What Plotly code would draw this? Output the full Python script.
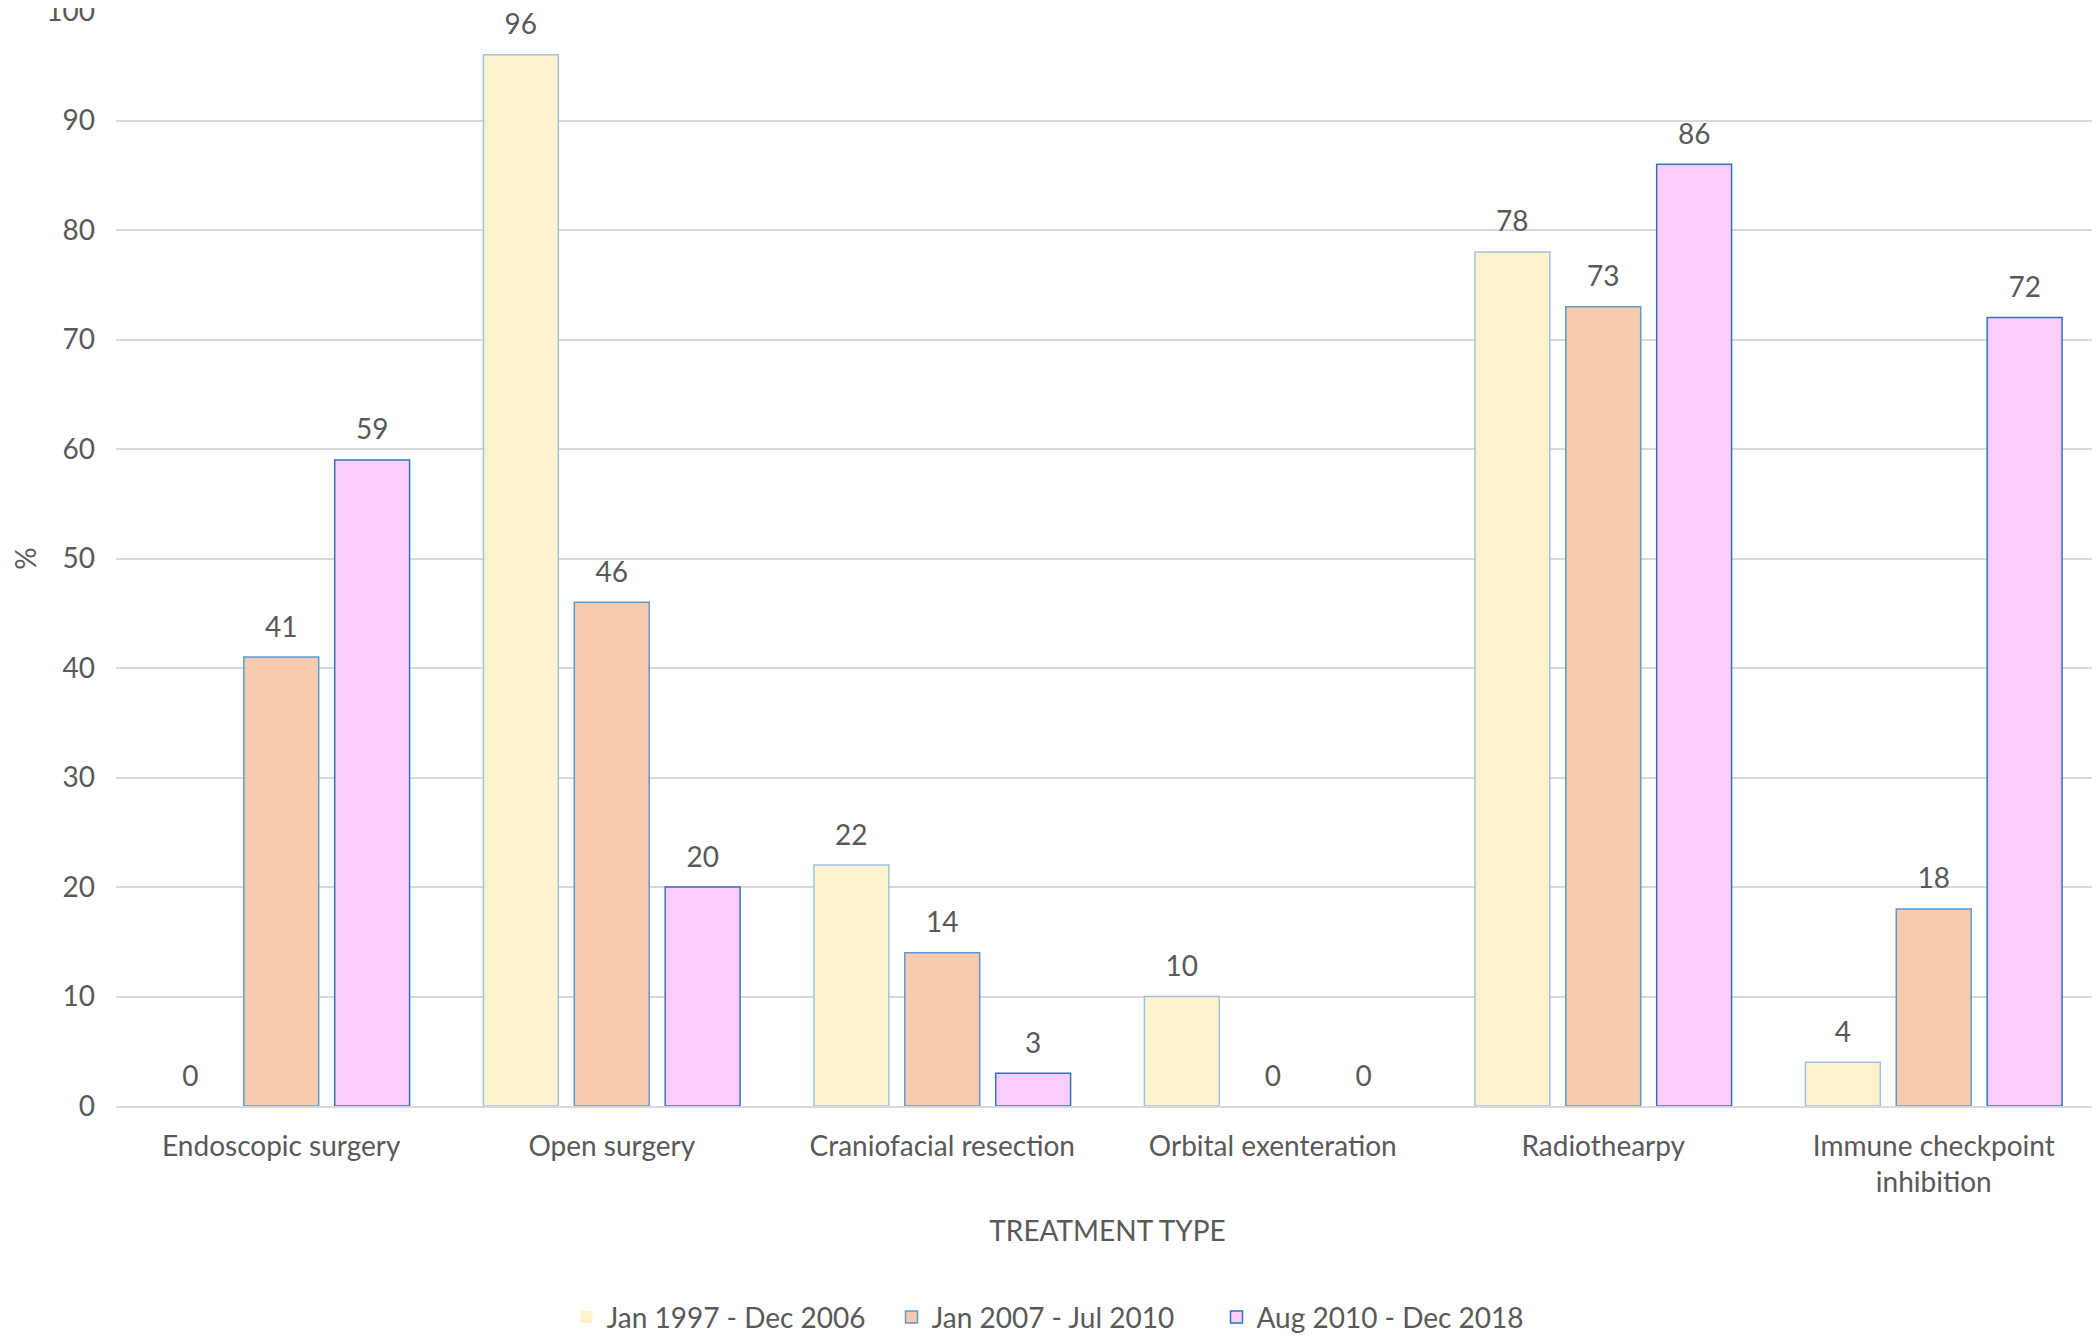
import plotly.graph_objects as go

# treatment categories and % of patients per era
categories = [
    "Endoscopic surgery",
    "Open surgery",
    "Craniofacial resection",
    "Orbital exenteration",
    "Radiothearpy",
    "Immune checkpoint<br>inhibition",
]
era_names = ["Jan 1997 - Dec 2006", "Jan 2007 - Jul 2010", "Aug 2010 - Dec 2018"]
era1 = [0, 96, 22, 10, 78, 4]
era2 = [41, 46, 14, 0, 73, 18]
era3 = [59, 20, 3, 0, 86, 72]
y_ticks = [0, 10, 20, 30, 40, 50, 60, 70, 80, 90, 100]

FILLS = ["#FFF2CC", "#F8CBAD", "#FFCCFF"]
LINES = ["#9DC3E6", "#5B9BD5", "#2E75B6"]
GREY = "#595959"
FONT = "Lato"
FS = 28

fig = go.Figure()
for i, (name, vals) in enumerate(zip(era_names, [era1, era2, era3])):
    # no outline on empty bars
    widths = [1.5 if v > 0 else 0 for v in vals]
    fig.add_trace(go.Bar(
        name=name,
        x=categories,
        y=vals,
        offsetgroup=str(i),
        marker=dict(color=FILLS[i], line=dict(color=LINES[i], width=widths)),
    ))

# value labels, placed with the same grouping as the bars
for i, vals in enumerate([era1, era2, era3]):
    fig.add_trace(go.Scatter(
        x=categories,
        y=vals,
        offsetgroup=str(i),
        mode="markers+text",
        text=[str(v) for v in vals],
        textposition="top center",
        textfont=dict(family=FONT, size=FS, color=GREY),
        marker=dict(size=20, opacity=0),
        showlegend=False,
        hoverinfo="skip",
        cliponaxis=False,
    ))

# page body has an 8px margin, so the figure is a bit smaller than the window
fig.update_layout(
    width=2092,
    height=1328,
    barmode="group",
    scattermode="group",
    bargap=0.175,
    bargroupgap=0.176,
    plot_bgcolor="white",
    paper_bgcolor="white",
    margin=dict(l=108, r=1, t=3, b=230),
    font=dict(family=FONT, size=FS, color=GREY),
    legend=dict(
        orientation="h",
        xref="container",
        x=0.5,
        xanchor="center",
        yref="container",
        y=0.014,
        yanchor="middle",
        font=dict(size=FS, color=GREY),
        itemwidth=30,
        entrywidth=280,
        traceorder="normal",
    ),
    xaxis=dict(
        title=dict(text="TREATMENT TYPE", font=dict(size=FS, color=GREY), standoff=24),
        tickfont=dict(size=FS, color=GREY),
        showline=True,
        linecolor="#D9D9D9",
        linewidth=2,
        ticks="",
        ticklabelstandoff=14,
        automargin=False,
    ),
    yaxis=dict(
        title=dict(text="%", font=dict(size=FS, color=GREY), standoff=52),
        range=[0, 100],
        tickvals=y_ticks,
        tickfont=dict(size=FS, color=GREY),
        gridcolor="#D9D9D9",
        gridwidth=2,
        zeroline=False,
        ticklabelstandoff=20,
        ticklabeloverflow="allow",
        automargin=False,
    ),
)

fig.write_html("out.html")
